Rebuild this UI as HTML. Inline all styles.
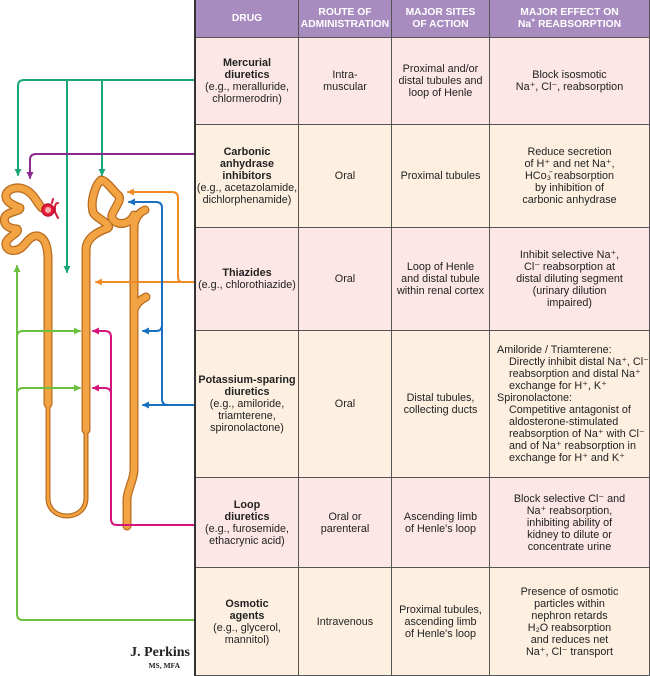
<!DOCTYPE html>
<html><head><meta charset="utf-8">
<style>
body{margin:0;background:#fff;width:650px;height:676px;position:relative;overflow:hidden;font-family:"Liberation Sans",Arial,sans-serif;}
.c{position:absolute;display:flex;align-items:center;justify-content:center;text-align:center;font-size:10.8px;line-height:12px;color:#222;box-sizing:border-box;border-right:1.5px solid #555;border-bottom:1.5px solid #555;white-space:nowrap;}
.h{background:#a88cc0;color:#fff;font-weight:bold;font-size:10.3px;line-height:11.5px;}
.p{background:#fce6e6;}
.y{background:#fdf0e1;}
b{font-weight:bold;}
.l{justify-content:flex-start;text-align:left;padding-left:7px;}
.ind{padding-left:12px;display:block;}
sup{font-size:7px;line-height:0;}
</style></head><body>
<svg width="650" height="676" style="position:absolute;left:0;top:0">
<defs>
<marker id="a" markerWidth="8" markerHeight="8" refX="6" refY="4" orient="auto" markerUnits="userSpaceOnUse"><path d="M0,0.5 L7,4 L0,7.5 Z" fill="context-stroke"/></marker>
</defs>
<g fill="none" stroke-linecap="round" stroke-linejoin="round">
<g stroke="#b86a1c" stroke-width="9">
<path d="M42,208 C37,203 34,194 26,190 C18,186 8,188 6,195 C5,202 13,205 20,208 C20,212 8,211 5,217 C2,224 9,229 17,229 C20,233 8,236 6,243 C5,250 13,253 21,248 C27,243 30,235 38,236 C45,238 48,246 48,260 L48,404"/>
<path d="M86,430 L86,250 C86,238 97,232 108,228 C112,224 95,218 93,212 C90,200 96,184 101,180 C106,180 114,192 118,195 C124,200 110,212 112,218 C116,226 128,225 133,217"/>
<path d="M134,215 L134,470 C134,480 127,490 127,500 L127,526"/>
<path d="M134,225 C136,216 140,212 145,210"/>
<path d="M134,310 C136,304 140,300 146,297"/>
</g>
<path d="M48,404 L48,498 C48,522 86,522 86,498 L86,430" stroke="#b86a1c" stroke-width="5"/>
<g stroke="#f2a444" stroke-width="6.5">
<path d="M42,208 C37,203 34,194 26,190 C18,186 8,188 6,195 C5,202 13,205 20,208 C20,212 8,211 5,217 C2,224 9,229 17,229 C20,233 8,236 6,243 C5,250 13,253 21,248 C27,243 30,235 38,236 C45,238 48,246 48,260 L48,404"/>
<path d="M86,430 L86,250 C86,238 97,232 108,228 C112,224 95,218 93,212 C90,200 96,184 101,180 C106,180 114,192 118,195 C124,200 110,212 112,218 C116,226 128,225 133,217"/>
<path d="M134,215 L134,470 C134,480 127,490 127,500 L127,526"/>
<path d="M134,225 C136,216 140,212 145,210"/>
<path d="M134,310 C136,304 140,300 146,297"/>
</g>
<path d="M48,404 L48,498 C48,522 86,522 86,498 L86,430" stroke="#f2a444" stroke-width="2.5"/>
<g stroke="#d01a3a" stroke-width="2"><path d="M58,203 C54,203 55,210 55,212 L58,218"/><path d="M52,203 L53,199"/></g>
<circle cx="48" cy="210" r="6" fill="#e8203c" stroke="#c01030" stroke-width="1.5"/>
<circle cx="48" cy="210" r="3" fill="#f6b0b0" stroke="none"/>
<g stroke-width="2">
<path d="M195,80 H24 Q18,80 18,86 V175" stroke="#1aa57a" marker-end="url(#a)"/>
<path d="M67,80 V272" stroke="#1aa57a" marker-end="url(#a)"/>
<path d="M102,80 V175" stroke="#1aa57a" marker-end="url(#a)"/>
<path d="M195,154 H36 Q30,154 30,160 V178" stroke="#8b2a8f" marker-end="url(#a)"/>
<path d="M195,282 H96" stroke="#f08a24" marker-end="url(#a)"/>
<path d="M182,282 Q178,282 178,276 V198 Q178,192 172,192 H128" stroke="#f08a24" marker-end="url(#a)"/>
<path d="M195,405 H143" stroke="#1a6fc0" marker-end="url(#a)"/>
<path d="M168,405 Q162,405 162,399 V208 Q162,202 156,202 H129" stroke="#1a6fc0" marker-end="url(#a)"/>
<path d="M162,325 Q162,331 156,331 H143" stroke="#1a6fc0" marker-end="url(#a)"/>
<path d="M195,620 H23 Q17,620 17,614 V266" stroke="#6cc040" marker-end="url(#a)"/>
<path d="M17,337 Q17,331 23,331 H80" stroke="#6cc040" marker-end="url(#a)"/>
<path d="M17,394 Q17,388 23,388 H80" stroke="#6cc040" marker-end="url(#a)"/>
<path d="M195,525 H117 Q111,525 111,519 V337 Q111,331 105,331 H93" stroke="#d4147c" marker-end="url(#a)"/>
<path d="M111,394 Q111,388 105,388 H93" stroke="#d4147c" marker-end="url(#a)"/>
</g>
</g>
<text x="190" y="656" text-anchor="end" font-family="Liberation Serif,serif" font-weight="bold" font-size="14" fill="#222">J. Perkins</text>
<text x="180" y="668" text-anchor="end" font-family="Liberation Serif,serif" font-weight="bold" font-size="7.5" fill="#222">MS, MFA</text>
<rect x="194" y="0" width="2" height="676" fill="#333"/>
</svg>

<div class="c h" style="left:196px;top:0;width:103px;height:38px"><div>DRUG</div></div>
<div class="c h" style="left:299px;top:0;width:93px;height:38px"><div>ROUTE OF<br>ADMINISTRATION</div></div>
<div class="c h" style="left:392px;top:0;width:98px;height:38px"><div>MAJOR SITES<br>OF ACTION</div></div>
<div class="c h" style="left:490px;top:0;width:160px;height:38px"><div>MAJOR EFFECT ON<br>Na<sup>+</sup> REABSORPTION</div></div>

<div class="c p" style="left:196px;top:38px;width:103px;height:87px"><div><b>Mercurial<br>diuretics</b><br>(e.g., meralluride,<br>chlormerodrin)</div></div>
<div class="c p" style="left:299px;top:38px;width:93px;height:87px"><div>Intra-<br>muscular</div></div>
<div class="c p" style="left:392px;top:38px;width:98px;height:87px"><div>Proximal and/or<br>distal tubules and<br>loop of Henle</div></div>
<div class="c p" style="left:490px;top:38px;width:160px;height:87px"><div>Block isosmotic<br>Na⁺, Cl⁻, reabsorption</div></div>

<div class="c y" style="left:196px;top:125px;width:103px;height:103px"><div><b>Carbonic<br>anhydrase<br>inhibitors</b><br>(e.g., acetazolamide,<br>dichlorphenamide)</div></div>
<div class="c y" style="left:299px;top:125px;width:93px;height:103px"><div>Oral</div></div>
<div class="c y" style="left:392px;top:125px;width:98px;height:103px"><div>Proximal tubules</div></div>
<div class="c y" style="left:490px;top:125px;width:160px;height:103px"><div>Reduce secretion<br>of H⁺ and net Na⁺,<br>HCo₃̄ reabsorption<br>by inhibition of<br>carbonic anhydrase</div></div>

<div class="c p" style="left:196px;top:228px;width:103px;height:103px"><div><b>Thiazides</b><br>(e.g., chlorothiazide)</div></div>
<div class="c p" style="left:299px;top:228px;width:93px;height:103px"><div>Oral</div></div>
<div class="c p" style="left:392px;top:228px;width:98px;height:103px"><div>Loop of Henle<br>and distal tubule<br>within renal cortex</div></div>
<div class="c p" style="left:490px;top:228px;width:160px;height:103px"><div>Inhibit selective Na⁺,<br>Cl⁻ reabsorption at<br>distal diluting segment<br>(urinary dilution<br>impaired)</div></div>

<div class="c y" style="left:196px;top:331px;width:103px;height:147px"><div><b>Potassium-sparing<br>diuretics</b><br>(e.g., amiloride,<br>triamterene,<br>spironolactone)</div></div>
<div class="c y" style="left:299px;top:331px;width:93px;height:147px"><div>Oral</div></div>
<div class="c y" style="left:392px;top:331px;width:98px;height:147px"><div>Distal tubules,<br>collecting ducts</div></div>
<div class="c y l" style="left:490px;top:331px;width:160px;height:147px"><div>Amiloride / Triamterene:<span class="ind">Directly inhibit distal Na⁺, Cl⁻<br>reabsorption and distal Na⁺<br>exchange for H⁺, K⁺</span>Spironolactone:<span class="ind">Competitive antagonist of<br>aldosterone-stimulated<br>reabsorption of Na⁺ with Cl⁻<br>and of Na⁺ reabsorption in<br>exchange for H⁺ and K⁺</span></div></div>

<div class="c p" style="left:196px;top:478px;width:103px;height:90px"><div><b>Loop<br>diuretics</b><br>(e.g., furosemide,<br>ethacrynic acid)</div></div>
<div class="c p" style="left:299px;top:478px;width:93px;height:90px"><div>Oral or<br>parenteral</div></div>
<div class="c p" style="left:392px;top:478px;width:98px;height:90px"><div>Ascending limb<br>of Henle's loop</div></div>
<div class="c p" style="left:490px;top:478px;width:160px;height:90px"><div>Block selective Cl⁻ and<br>Na⁺ reabsorption,<br>inhibiting ability of<br>kidney to dilute or<br>concentrate urine</div></div>

<div class="c y" style="left:196px;top:568px;width:103px;height:108px"><div><b>Osmotic<br>agents</b><br>(e.g., glycerol,<br>mannitol)</div></div>
<div class="c y" style="left:299px;top:568px;width:93px;height:108px"><div>Intravenous</div></div>
<div class="c y" style="left:392px;top:568px;width:98px;height:108px"><div>Proximal tubules,<br>ascending limb<br>of Henle's loop</div></div>
<div class="c y" style="left:490px;top:568px;width:160px;height:108px"><div>Presence of osmotic<br>particles within<br>nephron retards<br>H₂O reabsorption<br>and reduces net<br>Na⁺, Cl⁻ transport</div></div>
</body></html>
